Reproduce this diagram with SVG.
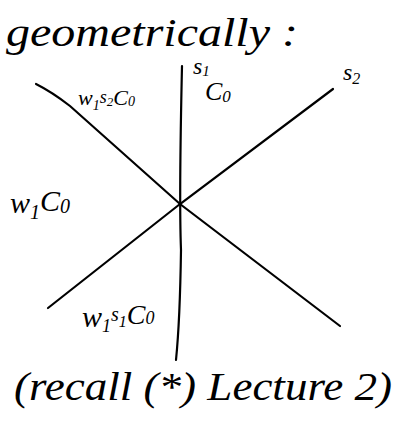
<svg xmlns="http://www.w3.org/2000/svg" width="404" height="426" viewBox="0 0 404 426">
<style>
.hw{font-family:"Liberation Serif","DejaVu Serif",serif;font-style:italic;fill:#000}
.ln{fill:none;stroke:#000;stroke-width:2.2;stroke-linecap:round}
</style>
<rect width="404" height="426" fill="#fff"/>
<g id="connectors">
<path class="ln" d="M182,66 Q179,200 181,250 Q180,320 176,360"/>
<path class="ln" d="M48,308 L180,204 L333,89"/>
<path class="ln" d="M36,84 Q52,92 70,106 L180,204 L340,326"/>
</g>
<g id="title"><text class="hw" x="6" y="46" font-size="40" textLength="292" lengthAdjust="spacingAndGlyphs">geometrically :</text></g>
<g id="s1"><text class="hw" x="193" y="74" font-size="24">s<tspan font-size="15" dy="2">1</tspan></text></g>
<g id="c0"><text class="hw" x="205" y="100" font-size="26">C<tspan font-size="17" dy="2">0</tspan></text></g>
<g id="s2"><text class="hw" x="343" y="80" font-size="24">s<tspan font-size="16" dy="4">2</tspan></text></g>
<g id="w1s2c0"><text class="hw" x="78" y="105" font-size="22">w<tspan font-size="14" dy="5">1</tspan><tspan dy="-7" font-size="18">s</tspan><tspan font-size="13" dy="3">2</tspan><tspan dy="-1" font-size="22">C</tspan><tspan font-size="14" dy="1">0</tspan></text></g>
<g id="w1c0"><text class="hw" x="10" y="213" font-size="30">w<tspan font-size="20" dy="6">1</tspan><tspan dy="-8" font-size="30">C</tspan><tspan font-size="20" dy="2">0</tspan></text></g>
<g id="w1s1c0"><text class="hw" x="82" y="327" font-size="30">w<tspan font-size="18" dy="5">1</tspan><tspan dy="-11" font-size="20">s</tspan><tspan font-size="16" dy="6">1</tspan><tspan dy="-3" font-size="28">C</tspan><tspan font-size="18" dy="0">0</tspan></text></g>
<g id="note"><text class="hw" x="14" y="400" font-size="40" textLength="378" lengthAdjust="spacingAndGlyphs">(recall (*) Lecture 2)</text></g>
</svg>
